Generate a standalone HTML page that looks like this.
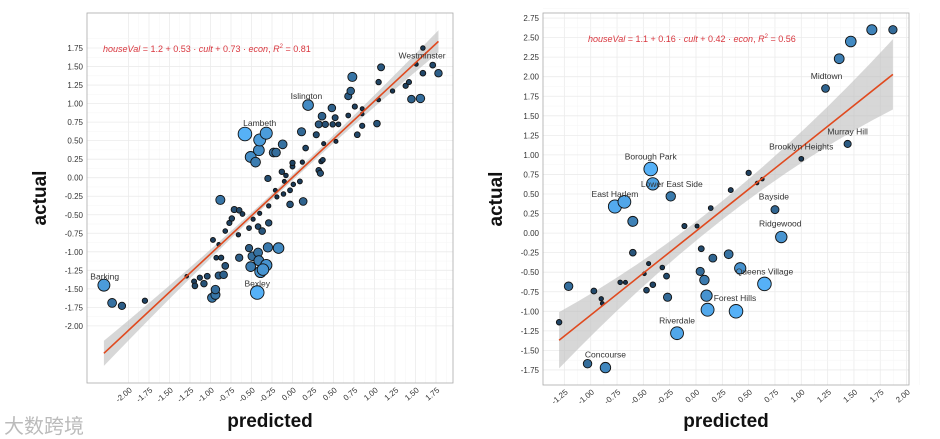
<!DOCTYPE html>
<html><head><meta charset="utf-8">
<style>
html,body{margin:0;padding:0;background:#fff;}
body{width:940px;height:439px;overflow:hidden;position:relative;font-family:"Liberation Sans",sans-serif;}
svg{position:absolute;left:0;top:0;}
.wm{position:absolute;left:4px;top:410px;font:20px "Liberation Sans","Noto Sans CJK SC",sans-serif;color:#bbb;}
</style></head>
<body>
<svg id="chart" width="940" height="439"></svg>
<div class="wm">大数跨境</div>
<script>
// ---- London panel data ----
const lonPred=[-2.30,-2.20,-2.08,-1.80,-1.29,-1.20,-1.19,-1.13,-1.08,-1.04,-0.98,-0.94,-0.94,-0.90,-0.84,-0.82,-0.93,-0.87,-0.97,-0.90,-0.82,-0.77,-0.74,-0.71,-0.65,-0.61,-0.66,-0.88,-0.65,-0.53,-0.48,-0.53,-0.49,-0.51,-0.42,-0.41,-0.37,-0.42,-0.40,-0.29,-0.29,-0.30,-0.32,-0.39,-0.36,-0.17,-0.43,-0.30,-0.21,-0.19,-0.11,-0.10,-0.13,-0.08,-0.03,-0.03,0.00,0.00,0.01,0.09,0.12,0.13,0.16,0.11,-0.12,-0.23,-0.20,-0.51,-0.45,-0.41,-0.40,-0.32,-0.58,0.29,0.32,0.36,0.32,0.34,0.35,0.37,0.38,0.40,0.48,0.52,0.53,0.49,0.56,0.19,0.68,0.68,0.71,0.73,0.76,0.79,0.85,0.85,0.85,1.03,1.05,1.08,1.05,1.22,1.38,1.42,1.45,1.56,1.59,1.59,1.51,1.71,1.78];
const lonAct=[-1.45,-1.69,-1.73,-1.66,-1.33,-1.40,-1.46,-1.35,-1.43,-1.33,-1.62,-1.58,-1.51,-1.32,-1.31,-1.19,-1.08,-1.08,-0.84,-0.90,-0.72,-0.61,-0.55,-0.43,-0.44,-0.49,-0.77,-0.30,-1.08,-0.68,-0.56,-0.95,-1.06,-1.20,-1.01,-1.12,-0.72,-0.66,-0.48,-0.38,-0.61,-0.94,-1.18,-1.27,-1.24,-0.95,-1.55,-0.01,-0.17,-0.26,-0.22,-0.05,0.08,0.03,-0.17,-0.36,0.15,0.20,-0.09,-0.05,0.21,-0.32,0.40,0.62,0.45,0.34,0.34,0.28,0.21,0.37,0.51,0.60,0.59,0.58,0.72,0.83,0.10,0.06,0.22,0.24,0.46,0.72,0.94,0.81,0.49,0.72,0.72,0.98,0.84,1.10,1.17,1.36,0.96,0.58,0.93,0.86,0.70,0.73,1.29,1.49,1.05,1.17,1.24,1.29,1.06,1.07,1.41,1.75,1.53,1.52,1.41];
const lonLabels=["Barking","Bexley","Lambeth","Islington","Westminster"];
const lonLabelX=[-2.29,-0.43,-0.40,0.17,1.58];
const lonLabelY=[-1.33,-1.43,0.74,1.10,1.65];
const lonLine=[-2.30,-2.37,1.78,1.84]; // x1,y1,x2,y2
const lonBand=[0.17,0.04,0.15]; // half-width at left, mid, right
const lonXTicks=["-2.00","-1.75","-1.50","-1.25","-1.00","-0.75","-0.50","-0.25","0.00","0.25","0.50","0.75","1.00","1.25","1.50","1.75"];
const lonYTicks=["-2.00","-1.75","-1.50","-1.25","-1.00","-0.75","-0.50","-0.25","0.00","0.25","0.50","0.75","1.00","1.25","1.50","1.75"];
// ---- NYC panel data ----
const nycPred=[-1.30,-1.21,-0.97,-0.90,-0.89,-1.03,-0.86,-0.77,-0.68,-0.60,-0.60,-0.72,-0.67,-0.45,-0.49,-0.47,-0.41,-0.32,-0.28,-0.27,-0.43,-0.41,-0.24,-0.11,0.01,0.05,0.14,0.16,0.04,0.08,0.10,0.11,-0.18,0.31,0.33,0.42,0.38,0.50,0.58,0.63,0.65,0.75,0.81,1.00,1.44,1.23,1.36,1.47,1.67,1.87];
const nycAct=[-1.14,-0.68,-0.74,-0.84,-0.90,-1.67,-1.72,0.34,0.40,0.15,-0.25,-0.63,-0.63,-0.39,-0.52,-0.73,-0.66,-0.44,-0.55,-0.82,0.82,0.63,0.47,0.09,0.09,-0.20,0.32,-0.32,-0.49,-0.60,-0.80,-0.98,-1.28,-0.27,0.55,-0.45,-1.00,0.77,0.64,0.69,-0.65,0.30,-0.05,0.95,1.14,1.85,2.23,2.45,2.60,2.60];
const nycLabels=["Midtown","Murray Hill","Brooklyn Heights","Borough Park","Lower East Side","East Harlem","Bayside","Ridgewood","Queens Village","Forest Hills","Riverdale","Concourse"];
const nycLabelX=[1.24,1.44,1.00,-0.43,-0.23,-0.77,0.74,0.80,0.65,0.37,-0.18,-0.86];
const nycLabelY=[2.01,1.30,1.11,0.98,0.63,0.50,0.47,0.12,-0.49,-0.83,-1.12,-1.55];
const nycLine=[-1.30,-1.37,1.87,2.03];
const nycBand=[0.36,0.12,0.45];
const nycXTicks=["-1.25","-1.00","-0.75","-0.50","-0.25","0.00","0.25","0.50","0.75","1.00","1.25","1.50","1.75","2.00"];
const nycYTicks=["-1.75","-1.50","-1.25","-1.00","-0.75","-0.50","-0.25","0.00","0.25","0.50","0.75","1.00","1.25","1.50","1.75","2.00","2.25","2.50","2.75"];

const NS="http://www.w3.org/2000/svg";
const svg=document.getElementById('chart');
function mk(tag,attrs,parent){const e=document.createElementNS(NS,tag);for(const k in attrs)e.setAttribute(k,attrs[k]);(parent||svg).appendChild(e);return e;}
function lerpColor(t){const a=[19,43,67],b=[86,177,247];return 'rgb('+a.map((v,i)=>Math.round(v+(b[i]-v)*t)).join(',')+')';}

function panel(o){
  const g=mk('g',{});
  
  
  const X=v=>o.x0+v*o.sx, Y=v=>o.y0-v*o.sy;
  mk('rect',{x:o.L,y:o.T,width:o.R-o.L,height:o.B-o.T,fill:'#fff'},g);
  // grid minor + major
  const xt=o.xt.map(Number), yt=o.yt.map(Number);
  xt.forEach(v=>{mk('line',{x1:X(v),x2:X(v),y1:o.T,y2:o.B,stroke:'#ebebeb','stroke-width':0.8},g);mk('line',{x1:X(v+0.125),x2:X(v+0.125),y1:o.T,y2:o.B,stroke:'#f5f5f5','stroke-width':0.5},g);});
  yt.forEach(v=>{mk('line',{y1:Y(v),y2:Y(v),x1:o.L,x2:o.R,stroke:'#ebebeb','stroke-width':0.8},g);mk('line',{y1:Y(v+0.125),y2:Y(v+0.125),x1:o.L,x2:o.R,stroke:'#f5f5f5','stroke-width':0.5},g);});
  // band
  const [x1,y1,x2,y2]=o.line, [b0,b1,b2]=o.band, xm=(x1+x2)/2, ym=(y1+y2)/2;
  const band=mk('path',{d:`M${X(x1)},${Y(y1+b0)} Q${X(xm)},${Y(ym+b1*0)} ${X(x2)},${Y(y2+b2)} L${X(x2)},${Y(y2-b2)} Q${X(xm)},${Y(ym)} ${X(x1)},${Y(y1-b0)}Z`,fill:'#bdbdbd','fill-opacity':0.6},g);
  band.setAttribute('d',`M${X(x1)},${Y(y1+b0)} Q${X(xm)},${Y(ym+2*b1-(b0+b2)/2)} ${X(x2)},${Y(y2+b2)} L${X(x2)},${Y(y2-b2)} Q${X(xm)},${Y(ym-2*b1+(b0+b2)/2)} ${X(x1)},${Y(y1-b0)}Z`);
  
  
  // points
  const slope=(y2-y1)/(x2-x1);
  o.px.forEach((p,i)=>{
    const a=o.py[i], r=Math.min(Math.abs(a-(y1+slope*(p-x1)))/o.rmax,1);
    const c=mk('circle',{cx:X(p),cy:Y(a),r:1.8+5*r,fill:lerpColor(r),stroke:'#111','stroke-width':0.9},g);
    
    
  });
  // line
  const ln=mk('line',{x1:X(x1),y1:Y(y1),x2:X(x2),y2:Y(y2),stroke:'#e04a1f','stroke-width':1.6},g);
  
  
  // labels
  o.lab.forEach((t,i)=>{
    const e=mk('text',{x:X(o.lx[i]),y:Y(o.ly[i])+3,'text-anchor':'middle','font-size':8.5,fill:'#333'},g);
    e.textContent=t;
    
    
  });
  mk('rect',{x:o.L,y:o.T,width:o.R-o.L,height:o.B-o.T,fill:'none',stroke:'#aaa','stroke-width':0.8},g);
  // ticks
  o.yt.forEach(s=>{const v=Number(s);
    const e=mk('text',{x:o.L-4,y:Y(v)+3,'text-anchor':'end','font-size':8,fill:'#333'},g);e.textContent=s;
    
    });
  o.xt.forEach(s=>{const v=Number(s);
    const e=mk('text',{x:0,y:0,'text-anchor':'end','font-size':8,fill:'#333',transform:`translate(${X(v)+4},${o.B+8}) rotate(-40)`},g);e.textContent=s;
    
    });
  // formula
  const f=mk('text',{x:o.fx,y:o.fy,'font-size':9,fill:'#d9363e','font-style':'italic'},g);
  f.innerHTML=o.formula;
  
  
  // axis titles
  const yl=mk('text',{x:0,y:0,'text-anchor':'middle','font-size':19,'font-weight':'bold',fill:'#111',transform:`translate(${o.L-41},${(o.T+o.B)/2}) rotate(-90)`},g);
  yl.textContent='actual';
  
  
  const xl=mk('text',{x:(o.L+o.R)/2,y:427,'text-anchor':'middle','font-size':19,'font-weight':'bold',fill:'#111'},g);
  xl.textContent='predicted';
  
  
}
panel({name:'london-panel',L:87,R:453,T:13,B:383,x0:292.5,sx:82,y0:177.7,sy:74.1,px:lonPred,py:lonAct,lab:lonLabels,lx:lonLabelX,ly:lonLabelY,line:lonLine,band:lonBand,xt:lonXTicks,yt:lonYTicks,rmax:1.1,fx:103,fy:52,
  formula:'houseVal<tspan font-style="normal"> = 1.2 + 0.53 · </tspan>cult<tspan font-style="normal"> + 0.73 · </tspan>econ<tspan font-style="normal">, </tspan> R<tspan font-size="6" dy="-4" font-style="normal">2</tspan><tspan dy="4" font-style="normal"> = 0.81</tspan>'});
panel({name:'nyc-panel',L:543,R:909,T:13,B:385,x0:696,sx:105.3,y0:233.1,sy:78.2,px:nycPred,py:nycAct,lab:nycLabels,lx:nycLabelX,ly:nycLabelY,line:nycLine,band:nycBand,xt:nycXTicks,yt:nycYTicks,rmax:1.2,fx:588,fy:42,
  formula:'houseVal<tspan font-style="normal"> = 1.1 + 0.16 · </tspan>cult<tspan font-style="normal"> + 0.42 · </tspan>econ<tspan font-style="normal">, </tspan> R<tspan font-size="6" dy="-4" font-style="normal">2</tspan><tspan dy="4" font-style="normal"> = 0.56</tspan>'});
</script>
</body></html>
